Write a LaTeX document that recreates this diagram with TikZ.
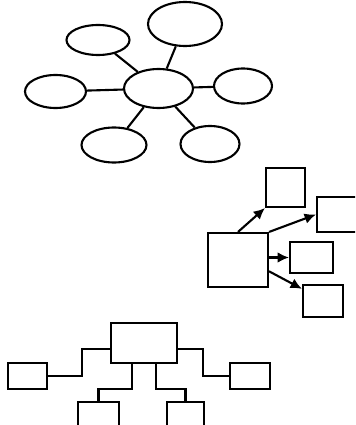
\documentclass[tikz,border=0pt]{standalone}
\usepackage{tikz}
\usetikzlibrary{shapes.geometric, arrows.meta, positioning}

\begin{document}
\begin{tikzpicture}[
  x=0.03cm, y=-0.03cm,
  bubble/.style={ellipse, draw=black, line width=1.8pt, inner sep=0pt},
  box/.style={rectangle, draw=black, line width=1.8pt, inner sep=0pt},
  link/.style={draw=black, line width=1.8pt},
  arr/.style={-{Latex[length=3.4mm, width=3.2mm]}, line width=1.8pt,
    draw=black},
]
\clip (0,0) rectangle (355,425);
% --- bubble map
\node[bubble, minimum width=2.07cm, minimum height=1.17cm] (hub) at (158.5, 88.5) {};
\node[bubble, minimum width=1.89cm, minimum height=0.90cm] (upleft)  at ( 98, 40) {};
\node[bubble, minimum width=2.22cm, minimum height=1.32cm] (upright) at (185, 24) {};
\node[bubble, minimum width=1.83cm, minimum height=0.99cm] (left)    at (55.5, 91.5) {};
\node[bubble, minimum width=1.74cm, minimum height=1.05cm] (right)   at (243, 86) {};
\node[bubble, minimum width=1.95cm, minimum height=1.05cm] (lowleft) at (114, 145) {};
\node[bubble, minimum width=1.77cm, minimum height=1.08cm] (lowright) at (210, 144) {};
\foreach \b in {upleft, upright, left, right, lowleft, lowright}
  \draw[link] (hub) -- (\b);
% --- fan out
\node[box, minimum width=1.80cm, minimum height=1.62cm] (src)  at (238, 260) {};
\node[box, minimum width=1.17cm, minimum height=1.17cm] (tgtA) at (285.5, 187.5) {};
\node[box, minimum width=1.20cm, minimum height=1.05cm] (tgtB) at (337, 214.5) {};
\node[box, minimum width=1.29cm, minimum height=0.93cm] (tgtC) at (311.5, 257.5) {};
\node[box, minimum width=1.20cm, minimum height=0.96cm] (tgtD) at (323, 301) {};
\draw[arr] (src.north) -- (tgtA.south west);
\draw[arr] (src.north east) -- (tgtB.west);
\draw[arr] (tgtC.west -| src.east) -- (tgtC.west);
\draw[arr] (src.-20) -- (tgtD.150);
% --- tree
\node[box, minimum width=1.98cm, minimum height=1.20cm] (root) at (144, 343) {};
\node[box, minimum width=1.17cm, minimum height=0.78cm] (lft)  at (27.5, 376) {};
\node[box, minimum width=1.20cm, minimum height=0.78cm] (rgt)  at (250, 376) {};
\node[box, minimum width=1.23cm, minimum height=0.84cm] (kidA) at (98.5, 416) {};
\node[box, minimum width=1.11cm, minimum height=0.84cm] (kidB) at (185.5, 416) {};
\draw[link] (root.190) -- ++(-28,0) |- (lft.east);
\draw[link] (root.-10) -- ++(25,0) |- (rgt.west);
\draw[link] ([xshift=-0.36cm]root.south) -- ++(0,25) -| (kidA.north);
\draw[link] ([xshift=0.36cm]root.south) -- ++(0,25) -| (kidB.north);
\end{tikzpicture}
\end{document}
